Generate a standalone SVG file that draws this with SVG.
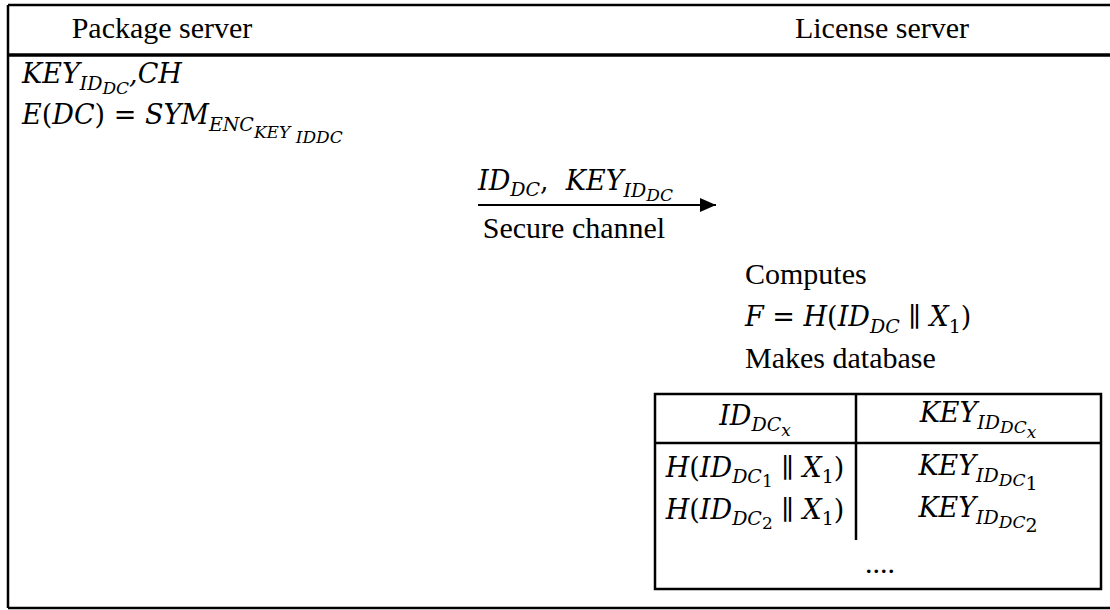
<svg xmlns="http://www.w3.org/2000/svg" width="1110" height="610" viewBox="0 0 1110 610">
<style>
.t{font-family:"Liberation Serif","Times New Roman",serif;font-size:30px;fill:#000}
.m{font-family:"DejaVu Serif",serif;font-style:italic;font-size:27px;fill:#000}
.u{font-style:normal}
.s1{font-size:19px}
.s2{font-size:17px}
.frame{stroke:#000;stroke-width:2.5;fill:none}
.tb{stroke:#000;stroke-width:2.5;fill:none}
.conn{stroke:#000;stroke-width:2;fill:none}
</style>
<defs>
<marker id="ah" viewBox="0 0 16 14" refX="16" refY="7" markerWidth="16" markerHeight="14" markerUnits="userSpaceOnUse" orient="auto">
<path d="M0,0 L16,7 L0,14 z" fill="#000"/>
</marker>
</defs>
<rect width="1110" height="610" fill="#fff"/>
<g id="frame">
<line class="frame" x1="8" y1="5" x2="1110" y2="5"/>
<line class="frame" x1="8" y1="5" x2="8" y2="608"/>
<line class="frame" x1="8" y1="608" x2="1110" y2="608"/>
<line x1="8" y1="55" x2="1110" y2="55" stroke="#000" stroke-width="3.5"/>
</g>
<g id="package-server">
<text class="t" x="162" y="38" text-anchor="middle">Package server</text>
<text class="m" x="22" y="83">KEY<tspan class="s1" dy="7">ID</tspan><tspan class="s2" dy="4">DC</tspan><tspan dy="-11">,CH</tspan></text>
<text class="m" x="22" y="124">E<tspan class="u">(</tspan>DC<tspan class="u">) = </tspan>SYM<tspan class="s1" dy="7">ENC</tspan><tspan class="s2" dy="7">KEY</tspan><tspan class="s2" dy="5"> IDDC</tspan></text>
</g>
<g id="license-server">
<text class="t" x="882" y="38" text-anchor="middle">License server</text>
<text class="t" x="745" y="284">Computes</text>
<text class="m" x="745" y="326">F <tspan class="u">= </tspan>H<tspan class="u">(</tspan>ID<tspan class="s1" dy="7">DC</tspan><tspan class="u" dy="-7"> ∥ </tspan>X<tspan class="s1 u" dy="7">1</tspan><tspan class="u" dy="-7">)</tspan></text>
<text class="t" x="745" y="368">Makes database</text>
</g>
<g id="database-table">
<rect class="tb" x="655" y="394" width="446" height="195"/>
<line class="tb" x1="655" y1="443" x2="1101" y2="443"/>
<line class="tb" x1="856" y1="394" x2="856" y2="540"/>
<text class="m" x="755" y="425" text-anchor="middle">ID<tspan class="s1" dy="6">DC</tspan><tspan class="s2" dy="5">x</tspan></text>
<text class="m" x="978" y="422" text-anchor="middle">KEY<tspan class="s1" dy="7">ID</tspan><tspan class="s2" dy="4">DC</tspan><tspan class="s2" dy="5">x</tspan></text>
<text class="m" x="755" y="477" text-anchor="middle">H<tspan class="u">(</tspan>ID<tspan class="s1" dy="6">DC</tspan><tspan class="s2 u" dy="4">1</tspan><tspan class="u" dy="-10"> ∥ </tspan>X<tspan class="s1 u" dy="6">1</tspan><tspan class="u" dy="-6">)</tspan></text>
<text class="m" x="978" y="475" text-anchor="middle">KEY<tspan class="s1" dy="7">ID</tspan><tspan class="s2" dy="4">DC</tspan><tspan class="s1 u" dy="4">1</tspan></text>
<text class="m" x="755" y="519" text-anchor="middle">H<tspan class="u">(</tspan>ID<tspan class="s1" dy="6">DC</tspan><tspan class="s2 u" dy="4">2</tspan><tspan class="u" dy="-10"> ∥ </tspan>X<tspan class="s1 u" dy="6">1</tspan><tspan class="u" dy="-6">)</tspan></text>
<text class="m" x="978" y="517" text-anchor="middle">KEY<tspan class="s1" dy="7">ID</tspan><tspan class="s2" dy="4">DC</tspan><tspan class="s1 u" dy="4">2</tspan></text>
<text class="t" x="880" y="573" text-anchor="middle">....</text>
</g>
<g id="connectors">
<line class="conn" x1="478" y1="205" x2="716" y2="205" marker-end="url(#ah)"/>
<text class="m" x="478" y="190">ID<tspan class="s1" dy="6">DC</tspan><tspan class="u" dy="-6">,&#160; </tspan>KEY<tspan class="s1" dy="7">ID</tspan><tspan class="s2" dy="4">DC</tspan></text>
<text class="t" x="574" y="238" text-anchor="middle">Secure channel</text>
</g>
</svg>
